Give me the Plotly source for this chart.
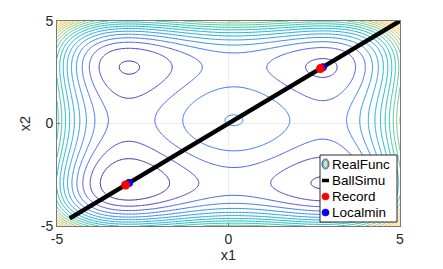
import numpy as np
import plotly.graph_objects as go

# Styblinski-Tang style test function: f = 0.5 * sum(x^4 - 16x^2 + 5x)
poly_coeffs = [1.0, 0.0, -16.0, 5.0, 0.0]   # x^4, x^3, x^2, x, const (per coordinate)
poly_scale = 0.5
grid_range = [-5.0, 5.0]
grid_n = 241

# Ball simulation path (straight trajectory)
ball_x1 = [-4.63, 5.0]
ball_x2 = [-4.63, 5.0]

# Recorded positions
record_x1 = [-3.0, 2.68]
record_x2 = [-3.0, 2.68]

# Local minima
localmin_x1 = [-2.90, 2.75]
localmin_x2 = [-2.90, 2.75]

tick_vals = [-5, 0, 5]
tick_text = ["-5", "0", "5"]
legend_names = ["RealFunc", "BallSimu", "Record", "Localmin"]
n_levels = 20

xs = np.linspace(grid_range[0], grid_range[1], grid_n)
ys = np.linspace(grid_range[0], grid_range[1], grid_n)
X, Y = np.meshgrid(xs, ys)
Z = poly_scale * (np.polyval(poly_coeffs, X) + np.polyval(poly_coeffs, Y))
zmin, zmax = float(Z.min()), float(Z.max())
lvl = np.linspace(zmin, zmax, n_levels + 2)
step = lvl[1] - lvl[0]

parula_rgb = [
    (62, 38, 168), (68, 60, 210), (71, 85, 240), (60, 110, 252), (40, 135, 245),
    (39, 150, 235), (30, 165, 225), (15, 178, 212), (10, 185, 195), (30, 192, 180),
    (55, 197, 160), (90, 200, 135), (125, 200, 110), (160, 195, 90), (190, 188, 75),
    (215, 185, 65), (240, 185, 60), (253, 195, 55), (250, 210, 45), (245, 230, 35),
    (249, 251, 20),
]
parula = [[i / (len(parula_rgb) - 1), "rgb(%d,%d,%d)" % rgb] for i, rgb in enumerate(parula_rgb)]

fig = go.Figure()
fig.add_trace(go.Contour(
    x=xs, y=ys, z=Z,
    colorscale=parula, zmin=zmin, zmax=zmax, showscale=False,
    contours=dict(coloring="lines", start=lvl[1], end=lvl[-2] + 1e-6, size=step),
    line=dict(width=1), showlegend=False, hoverinfo="skip",
))
fig.add_trace(go.Scatter(
    x=ball_x1, y=ball_x2, mode="lines", name="BallSimu",
    line=dict(color="black", width=4.5), showlegend=False,
))
fig.add_trace(go.Scatter(
    x=localmin_x1, y=localmin_x2, mode="markers", name="Localmin",
    marker=dict(color="rgb(0,0,255)", size=8), showlegend=False,
))
fig.add_trace(go.Scatter(
    x=record_x1, y=record_x2, mode="markers", name="Record",
    marker=dict(color="rgb(255,0,0)", size=9), showlegend=False,
))

# plot area geometry (pixels) for the hand-built legend box
L, T, W, H = 57, 21, 343, 205


def px(xp):
    return (xp - L) / W


def py(yp):
    return (T + H - yp) / H


shapes = []
annotations = []
shapes.append(dict(type="rect", xref="paper", yref="paper",
                   x0=px(320), x1=px(397), y0=py(222), y1=py(155),
                   line=dict(color="rgb(40,40,40)", width=1), fillcolor="white", layer="above"))
row_y = [164, 180.5, 196.5, 212.5]
sym_x = px(325.5)


def pix_shape(kind, yrow, x0, x1, y0, y1, **kw):
    d = dict(type=kind, xref="paper", yref="paper", xsizemode="pixel", ysizemode="pixel",
             xanchor=sym_x, yanchor=py(yrow), x0=x0, x1=x1, y0=y0, y1=y1, layer="above")
    d.update(kw)
    return d


# RealFunc icon: nested ellipses
shapes.append(pix_shape("circle", row_y[0], -3.5, 3.5, -5, 5,
                        line=dict(color="rgb(75,70,190)", width=1), fillcolor="rgb(120,200,230)"))
shapes.append(pix_shape("circle", row_y[0], -2.2, 2.2, -3.6, 3.6,
                        line=dict(color="rgb(60,170,220)", width=0.8), fillcolor="rgb(245,240,90)"))
# BallSimu icon
shapes.append(pix_shape("line", row_y[1], -3.5, 3.5, 0, 0,
                        line=dict(color="black", width=3.5)))
# Record / Localmin icons
shapes.append(pix_shape("circle", row_y[2], -3.6, 3.6, -3.6, 3.6,
                        line=dict(color="rgb(255,0,0)", width=0.5), fillcolor="rgb(255,0,0)"))
shapes.append(pix_shape("circle", row_y[3], -3.6, 3.6, -3.6, 3.6,
                        line=dict(color="rgb(0,0,255)", width=0.5), fillcolor="rgb(0,0,255)"))

for name, yr in zip(legend_names, row_y):
    annotations.append(dict(text=name, xref="paper", yref="paper", x=px(329.5), y=py(yr),
                            xanchor="left", yanchor="middle", showarrow=False,
                            font=dict(size=13.5, color="black")))

axis_common = dict(
    range=grid_range, tickvals=tick_vals, ticktext=tick_text,
    showgrid=True, gridcolor="rgb(236,236,236)", gridwidth=1,
    zeroline=False, showline=True, linecolor="rgb(120,120,120)", linewidth=1,
    mirror=True, ticks="inside", ticklen=3, tickcolor="rgb(120,120,120)",
    tickfont=dict(size=14, color="rgb(38,38,38)"), automargin=False,
)
fig.update_xaxes(**axis_common, title=dict(text="x1", font=dict(size=14.5, color="rgb(38,38,38)"), standoff=2))
fig.update_yaxes(**axis_common, title=dict(text="x2", font=dict(size=14.5, color="rgb(38,38,38)"), standoff=6))

fig.update_layout(
    width=443, height=269,
    margin=dict(l=L, r=443 - L - W, t=T, b=269 - T - H),
    paper_bgcolor="white", plot_bgcolor="white",
    font=dict(family="Liberation Sans, Arial, sans-serif"),
    shapes=shapes, annotations=annotations,
    showlegend=False,
)

fig.write_html("out.html", config={"displayModeBar": False},
               post_script="document.body.style.margin='0';")
